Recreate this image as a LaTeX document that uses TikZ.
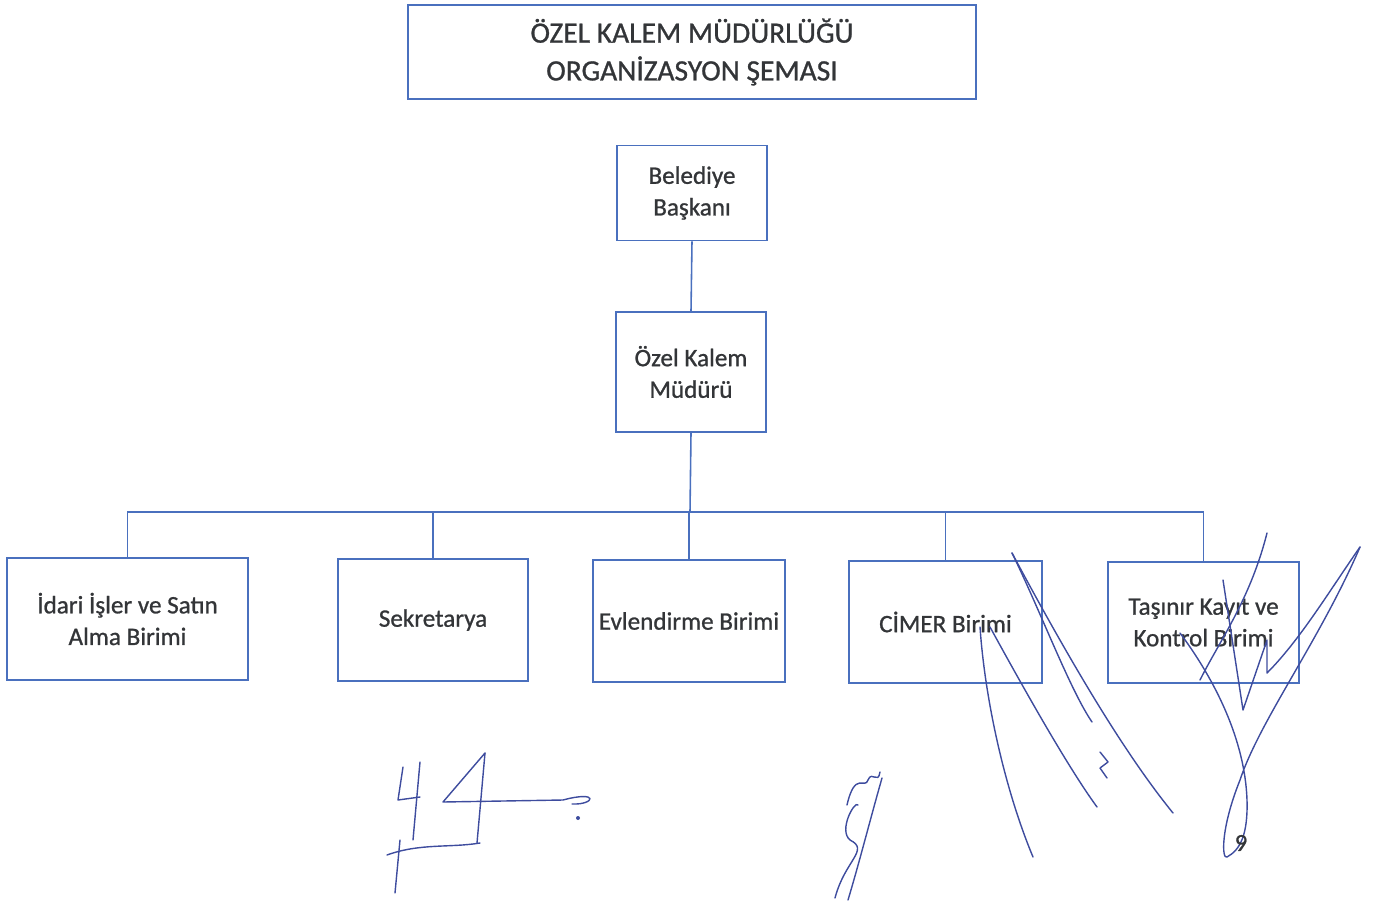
\documentclass[tikz,border=0pt]{standalone}
\usepackage{fontspec}
\setmainfont{Carlito}[FakeBold=0.9]
\usepackage{tikz}

\definecolor{kutu}{HTML}{4A70BE}
\definecolor{yazi}{HTML}{333538}
\definecolor{imza}{HTML}{3E4C9E}

\begin{document}
\begin{tikzpicture}[x=0.02cm,y=-0.02cm]
\tikzstyle{every node}+=[inner sep=0pt]
\tikzstyle{birim}=[draw=kutu,line width=0.9pt,align=center,text=yazi,
  font=\fontsize{14.3}{18}\selectfont]
\tikzstyle{hat}=[kutu,line width=0.9pt]
\tikzstyle{imzaciz}=[imza,line width=0.8pt,line cap=round,line join=round]
\useasboundingbox (0,0) rectangle (1386,903);
% baslik
\node [birim,minimum width=11.36cm,minimum height=1.88cm,
  font=\fontsize{16.8}{21.5}\selectfont] (baslik) at (692,52)
  {ÖZEL KALEM MÜDÜRLÜĞÜ\\ORGANİZASYON ŞEMASI};
% ust kademe
\node [birim,minimum width=3cm,minimum height=1.9cm] (baskan) at (692,193)
  {Belediye\\Başkanı};
\node [birim,minimum width=3cm,minimum height=2.4cm] (mudur) at (691,372)
  {Özel Kalem\\Müdürü};
% birimler
\node [birim,minimum width=4.82cm,minimum height=2.44cm] (idari) at (127.5,619)
  {İdari İşler ve Satın\\Alma Birimi};
\node [birim,minimum width=3.8cm,minimum height=2.44cm] (sekreter) at (433,620)
  {Sekretarya};
\node [birim,minimum width=3.84cm,minimum height=2.44cm] (evlendirme) at (689,621)
  {Evlendirme Birimi};
\node [birim,minimum width=3.86cm,minimum height=2.44cm] (cimer) at (945.5,622)
  {CİMER Birimi};
\node [birim,minimum width=3.82cm,minimum height=2.42cm] (tasinir) at (1203.5,622.5)
  {Taşınır Kayıt ve\\Kontrol Birimi};
\coordinate (dugum) at (690,512);
% baglantilar
\draw [hat] (baskan.south) -- (mudur.north);
\draw [hat] (mudur.south) -- (dugum);
\draw [hat] (idari.north) |- (tasinir.north |- dugum) -- (tasinir.north);
\draw [hat] (sekreter.north) -- (sekreter.north |- dugum);
\draw [hat] (evlendirme.north) -- (evlendirme.north |- dugum);
\draw [hat] (cimer.north) -- (cimer.north |- dugum);
% imzalar
\draw [imzaciz] (403,767) -- (398,800) -- (420,797);
\draw [imzaciz] (420,762) -- (413,840);
\draw [imzaciz] (400,840) -- (395,893);
\draw [imzaciz] (387,855) .. controls (420,843) and (450,848) .. (480,843);
\draw [imzaciz] (485,753) -- (443,802) -- (563,800)
  .. controls (600,790) and (595,805) .. (572,804);
\draw [imzaciz] (485,753) -- (477,843);
\fill [imza] (578,818) circle (2);
\draw [imzaciz] (848,900) .. controls (860,860) and (870,820) .. (882,778);
\draw [imzaciz] (835,898) .. controls (845,860) and (870,850) .. (850,840)
  .. controls (838,830) and (855,800) .. (858,805);
\draw [imzaciz] (847,805) .. controls (855,770) and (865,790) .. (868,780)
  .. controls (872,770) and (878,785) .. (880,772);
\draw [imzaciz] (1012,553) .. controls (1080,680) and (1130,760) .. (1173,813);
\draw [imzaciz] (1012,553) .. controls (1040,610) and (1070,690) .. (1092,722);
\draw [imzaciz] (980,627) .. controls (985,700) and (1005,790) .. (1033,857);
\draw [imzaciz] (990,627) .. controls (1030,700) and (1070,770) .. (1097,807);
\draw [imzaciz] (1100,752) -- (1108,762) -- (1100,768) -- (1107,778);
\draw [imzaciz] (1360,547) .. controls (1320,640) and (1260,720) .. (1240,780)
  .. controls (1220,830) and (1222,860) .. (1227,857)
  .. controls (1240,850) and (1248,835) .. (1247,800)
  .. controls (1245,740) and (1215,680) .. (1180,633);
\draw [imzaciz] (1360,547) .. controls (1330,590) and (1300,640) .. (1267,673)
  -- (1267,640) -- (1243,710) -- (1223,580);
\draw [imzaciz] (1267,533) .. controls (1250,600) and (1220,640) .. (1200,680);
\node [text=yazi,font=\fontsize{14}{15}\selectfont] (sayfa) at (1241,843) {9};
\end{tikzpicture}
\end{document}
